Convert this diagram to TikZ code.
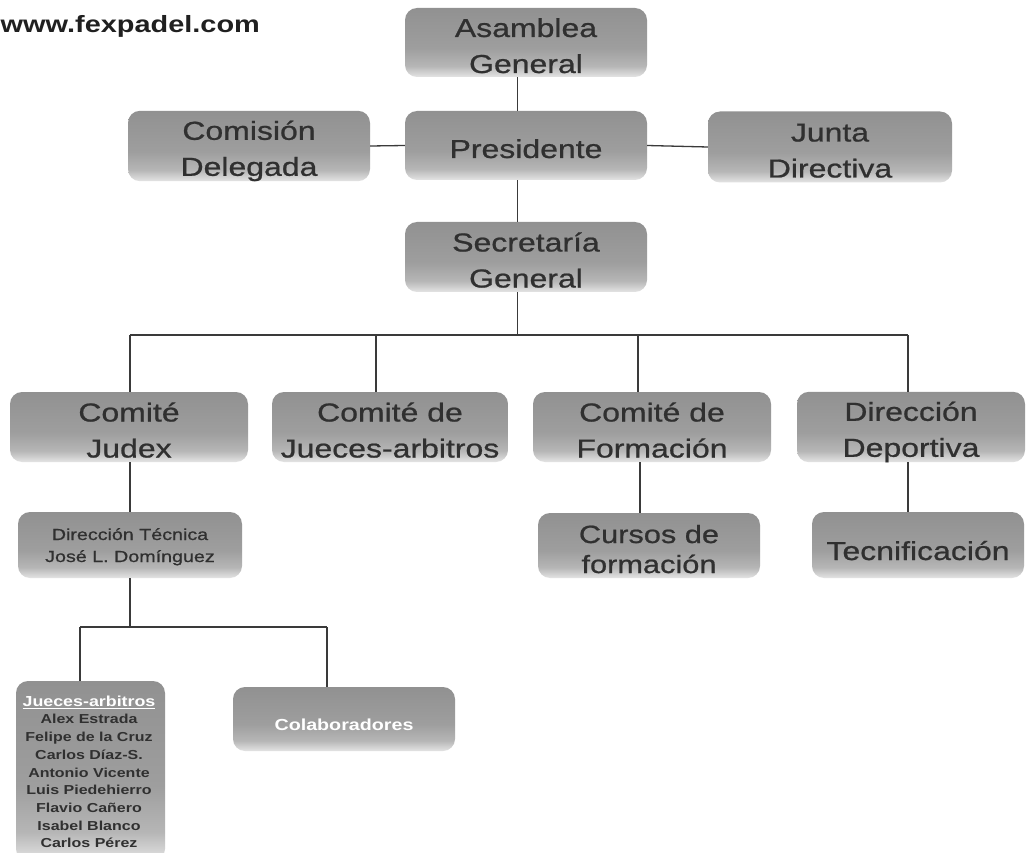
\documentclass[tikz,border=0pt]{standalone}
\usepackage{fontspec}
\setmainfont{Liberation Sans}[FakeStretch=1.23]
\newfontfamily\boxfont{Liberation Sans}[FakeStretch=1.23, FakeBold=0.8]
\usetikzlibrary{calc}
\definecolor{stop}{HTML}{919191}
\definecolor{sthree}{HTML}{9E9E9E}
\definecolor{stwo}{HTML}{B6B6B6}
\definecolor{sbot}{HTML}{E4E4E4}
\definecolor{txt}{HTML}{303030}
\definecolor{linec}{HTML}{3A3A3A}
\definecolor{urlc}{HTML}{202020}
\newcommand\tstr[1]{\rule{0pt}{#1}}
\newcommand\bstr[1]{\rule[-#1]{0pt}{#1}}
\newcommand\sstr[2]{\rule[-#2]{0pt}{\dimexpr#1+#2\relax}}
\pgfdeclareverticalshading{boxshade}{100bp}{color(0bp)=(sbot); color(25bp)=(sbot); color(33bp)=(stwo); color(46bp)=(sthree); color(75bp)=(stop); color(100bp)=(stop)}
\tikzset{
  box/.style={rounded corners=12pt, shade, shading=boxshade, draw=none, text=txt,
    align=center, inner sep=0pt, font=\boxfont\fontsize{26}{36}\selectfont},
  conn/.style={draw=linec, line width=1.3pt},
}
\begin{document}
\begin{tikzpicture}[x=1pt,y=-1pt]
\clip (0,0) rectangle (1026,853);
\fill[white] (0,0) rectangle (1026,853);

\node[anchor=base west, inner sep=0pt, text=urlc, font=\bfseries\fontsize{23.5}{28}\selectfont] (url) at (0.5,33) {www.fexpadel.com};

\node[box, minimum width=242, minimum height=69] (asamblea) at (526,42.5) {\tstr{29pt}Asamblea\\General\bstr{4pt}};
\node[box, minimum width=242, minimum height=69] (presidente) at (526,145.5) {\sstr{33pt}{8pt}Presidente};
\node[box, minimum width=242, minimum height=70] (comision) at (249,146) {\tstr{29pt}Comisión\\Delegada\bstr{4pt}};
\node[box, minimum width=244, minimum height=71] (junta) at (830,147) {\tstr{29pt}Junta\\Directiva\bstr{4pt}};
\node[box, minimum width=242, minimum height=70] (secretaria) at (526,257) {\tstr{29pt}Secretaría\\General\bstr{4pt}};

\node[box, minimum width=238, minimum height=70] (judex) at (129,427) {\tstr{29pt}Comité\\Judex\bstr{4pt}};
\node[box, minimum width=236, minimum height=70] (jueces) at (390,427) {\tstr{29pt}Comité de\\Jueces-arbitros\bstr{4pt}};
\node[box, minimum width=238, minimum height=70] (formacion) at (652,427) {\tstr{29pt}Comité de\\Formación\bstr{4pt}};
\node[box, minimum width=228, minimum height=70] (deportiva) at (911,427) {\tstr{29pt}Dirección\\Deportiva\bstr{4pt}};

\node[box, minimum width=224, minimum height=66, font=\boxfont\fontsize{16}{22}\selectfont] (dt) at (130,545) {\tstr{16pt}Dirección Técnica\\José L. Domínguez\bstr{4pt}};
\node[box, minimum width=222, minimum height=65, font=\boxfont\fontsize{25}{30}\selectfont] (cursos) at (649,545.5) {\tstr{30pt}Cursos de\\formación\bstr{5pt}};
\node[box, minimum width=212, minimum height=66] (tecnif) at (918,545) {\sstr{34pt}{4pt}Tecnificación};

\node[box, minimum width=149, minimum height=180] (lista) at (90.5,771) {};
\node[anchor=north, align=center, inner sep=0pt, text=txt, font=\bfseries\fontsize{13}{17.7}\selectfont] (nombres) at (89,695.5)
  {{\color{white}\fontsize{14.5}{17.7}\selectfont\underline{Jueces-arbitros}}\\Alex Estrada\\Felipe de la Cruz\\Carlos Díaz-S.\\Antonio Vicente\\Luis Piedehierro\\Flavio Cañero\\Isabel Blanco\\Carlos Pérez};
\node[box, minimum width=222, minimum height=64, text=white, font=\bfseries\fontsize{16}{20}\selectfont] (colab) at (344,719) {\sstr{24pt}{2pt}Colaboradores};

% connector coordinates
\coordinate (vx) at (517.5,0);
\coordinate (d1) at (130,335);
\coordinate (d2) at (376,335);
\coordinate (d3) at (638,335);
\coordinate (d4) at (908,335);
\coordinate (c3) at (640,0);
\coordinate (b1) at (80,627);
\coordinate (b2) at (327,627);

\draw[conn] (comision.east) -- (presidente.west);
\draw[conn] (presidente.east) -- (junta.west);
\draw[conn] (asamblea.south -| vx) -- (presidente.north -| vx);
\draw[conn] (presidente.south -| vx) -- (secretaria.north -| vx);
\draw[conn] (secretaria.south -| vx) -- (vx |- d1);
\draw[conn] (d1) -- (d4);
\draw[conn] (d1) -- (d1 |- judex.north);
\draw[conn] (d2) -- (d2 |- jueces.north);
\draw[conn] (d3) -- (d3 |- formacion.north);
\draw[conn] (d4) -- (d4 |- deportiva.north);
\draw[conn] (judex.south -| d1) -- (dt.north -| d1);
\draw[conn] (formacion.south -| c3) -- (cursos.north -| c3);
\draw[conn] (deportiva.south -| d4) -- (tecnif.north -| d4);
\draw[conn] (dt.south -| d1) -- (d1 |- b1);
\draw[conn] (b1) -- (b2);
\draw[conn] (b1) -- (lista.north -| b1);
\draw[conn] (b2) -- (colab.north -| b2);
\end{tikzpicture}
\end{document}
